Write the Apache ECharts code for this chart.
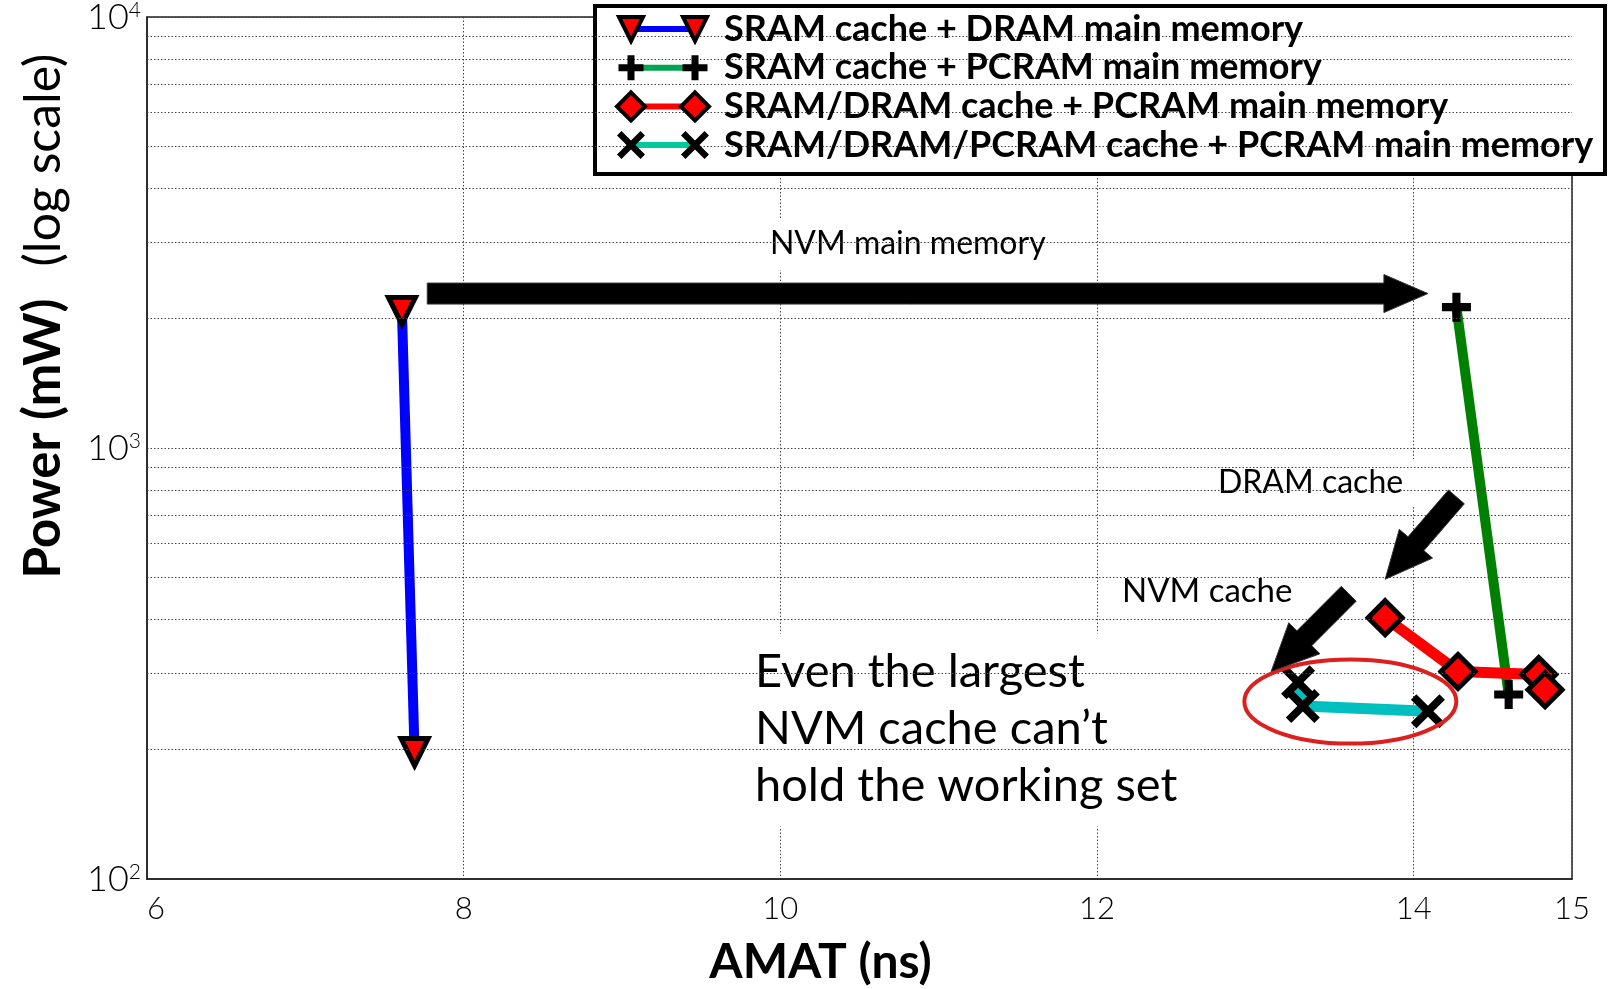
<!DOCTYPE html>
<html>
<head>
<meta charset="utf-8">
<script src="https://cdn.jsdelivr.net/npm/echarts@6/dist/echarts.min.js"></script>
<style>html,body{margin:0;padding:0;background:#fff}#c{width:1614px;height:989px}</style>
</head>
<body>
<div id="c"></div>
<script>
// ---------------- data ----------------
const seriesNames = [
  'SRAM cache + DRAM main memory',
  'SRAM cache + PCRAM main memory',
  'SRAM/DRAM cache + PCRAM main memory',
  'SRAM/DRAM/PCRAM cache + PCRAM main memory'
];
const sramDramAmat = [7.61, 7.69];
const sramDramPower = [2080, 197];
const sramPcramAmat = [14.27, 14.60];
const sramPcramPower = [2122, 268];
const dramCacheAmat = [13.82, 14.28, 14.79, 14.83];
const dramCachePower = [404, 303, 298, 275];
const nvmCacheAmat = [13.27, 13.30, 14.09];
const nvmCachePower = [286, 252, 245];

const xMin = 6, xMax = 15, xStep = 2;
const yMin = 100, yMax = 10000;
const minorGridPower = [200, 300, 400, 500, 600, 700, 800, 900, 2000, 3000, 4000, 5000, 6000, 7000, 8000, 9000];

// annotations (data coordinates)
const mainArrow = [[7.77, 2282], [14.09, 2282]];
const dramArrow = [[14.27, 770], [13.82, 496]];
const nvmArrow = [[13.59, 459], [13.10, 303]];
const ellipseCenter = [13.60, 258];
const labelNvmMain = { text: 'NVM main memory', at: [9.934, 2971] };
const labelDram = { text: 'DRAM cache', at: [12.764, 829] };
const labelNvm = { text: 'NVM cache', at: [12.158, 456] };
const labelBig = { text: 'Even the largest\nNVM cache can\u2019t\nhold the working set', at: [9.840, 352] };

// ---------------- styles ----------------
const FONT = 'Lato';
const PLUS_PATH = 'path://M-1.4,-5L1.4,-5L1.4,-1.4L5,-1.4L5,1.4L1.4,1.4L1.4,5L-1.4,5L-1.4,1.4L-5,1.4L-5,-1.4L-1.4,-1.4Z';
const X_PATH = 'path://M-5,-3.4L-3.4,-5L0,-1.6L3.4,-5L5,-3.4L1.6,0L5,3.4L3.4,5L0,1.6L-3.4,5L-5,3.4L-1.6,0Z';
const gridLine = { type: [1.5, 2], color: '#444', width: 1 };

const zip = (a, b) => a.map((v, i) => [v, b[i]]);

const legendLeft = 699, legendTop = 11, legendRowH = 36, legendGap = 2.7;

const option = {
  animation: false,
  backgroundColor: '#fff',
  textStyle: { fontFamily: FONT },
  grid: {
    left: 147, right: 42, top: 17, bottom: 110,
    show: true, borderColor: '#222', borderWidth: 1.5,
    containLabel: false, outerBoundsMode: 'none'
  },
  legend: {
    data: seriesNames,
    orient: 'vertical',
    left: legendLeft, top: legendTop,
    padding: 0,
    itemWidth: 20, itemHeight: legendRowH, itemGap: legendGap,
    icon: 'rect',
    itemStyle: { color: 'rgba(0,0,0,0)', borderWidth: 0, opacity: 0 },
    textStyle: { fontSize: 36, fontWeight: 'bold', fontFamily: FONT, color: '#000' },
    selectedMode: false,
    z: 6
  },
  xAxis: {
    type: 'value', min: xMin, max: xMax, interval: xStep,
    axisLine: { show: true, lineStyle: { color: '#222', width: 1.5 } },
    axisTick: { show: false },
    splitLine: { show: true, lineStyle: gridLine },
    axisLabel: { fontSize: 31, color: '#000', margin: 14, fontFamily: FONT, fontWeight: 300, alignMinLabel: 'left' },
    name: 'AMAT (ns)', nameLocation: 'middle', nameGap: 60,
    nameTextStyle: { fontSize: 48, fontWeight: 'bold', color: '#000', fontFamily: FONT, padding: [0, 78, 0, 0] }
  },
  yAxis: {
    type: 'log', logBase: 10, min: yMin, max: yMax,
    axisLine: { show: true, lineStyle: { color: '#222', width: 1.5 } },
    axisTick: { show: false },
    splitLine: { show: true, lineStyle: gridLine },
    axisLabel: {
      margin: 6,
      formatter: v => '{b|10}{s|' + Math.round(Math.log10(v)) + '}',
      rich: {
        b: { fontSize: 36, lineHeight: 34, color: '#000', fontFamily: FONT, fontWeight: 300 },
        s: { fontSize: 21, lineHeight: 20, color: '#000', fontFamily: FONT, verticalAlign: 'top', fontWeight: 300 }
      }
    },
    name: '{b|Power (mW)}{n|(log scale)}',
    nameLocation: 'middle', nameGap: 78, nameRotate: 90,
    nameTextStyle: {
      padding: [0, 0, 0, 264],
      rich: {
        b: { fontSize: 51, fontWeight: 'bold', color: '#000', fontFamily: FONT },
        n: { fontSize: 50, color: '#000', fontFamily: FONT, padding: [0, 0, 0, 32] }
      }
    }
  },
  series: [
    {
      name: '__grid', type: 'line', data: [], z: 1, silent: true,
      markLine: {
        silent: true, symbol: ['none', 'none'], label: { show: false },
        lineStyle: gridLine, animation: false,
        emphasis: { disabled: true },
        data: minorGridPower.map(v => ({ yAxis: v }))
      }
    },
    {
      name: seriesNames[0], type: 'line', z: 3, data: zip(sramDramAmat, sramDramPower),
      symbol: 'triangle', symbolRotate: 180, symbolSize: 27, showAllSymbol: true,
      lineStyle: { color: '#0000ff', width: 10 },
      itemStyle: { color: '#ff0000', borderColor: '#000', borderWidth: 5, borderJoin: 'miter' },
      emphasis: { disabled: true }
    },
    {
      name: seriesNames[1], type: 'line', z: 3, data: zip(sramPcramAmat, sramPcramPower),
      symbol: PLUS_PATH, symbolSize: 29, showAllSymbol: true,
      lineStyle: { color: '#008000', width: 10 },
      itemStyle: { color: '#000', borderWidth: 0 },
      emphasis: { disabled: true }
    },
    {
      name: seriesNames[2], type: 'line', z: 3, data: zip(dramCacheAmat, dramCachePower),
      symbol: 'diamond', symbolSize: 34, showAllSymbol: true,
      lineStyle: { color: '#ff0000', width: 11 },
      itemStyle: { color: '#ff0000', borderColor: '#000', borderWidth: 5, borderJoin: 'miter' },
      emphasis: { disabled: true }
    },
    {
      name: seriesNames[3], type: 'line', z: 3, data: zip(nvmCacheAmat, nvmCachePower),
      symbol: X_PATH, symbolSize: 34, showAllSymbol: true,
      lineStyle: { color: '#00bfbf', width: 11 },
      itemStyle: { color: '#000', borderWidth: 0 },
      emphasis: { disabled: true }
    }
  ]
};

const chart = echarts.init(document.getElementById('c'), null, { renderer: 'canvas' });
chart.setOption(option);

// ---------------- annotations ----------------
const P = v => chart.convertToPixel({ xAxisIndex: 0, yAxisIndex: 0 }, v);

function arrowPoints(a, b, shaft, headW, headL) {
  const dx = b[0] - a[0], dy = b[1] - a[1], len = Math.hypot(dx, dy);
  const ux = dx / len, uy = dy / len, nx = -uy, ny = ux;
  const bx = b[0] - ux * headL, by = b[1] - uy * headL;
  return [
    [a[0] + nx * shaft / 2, a[1] + ny * shaft / 2],
    [bx + nx * shaft / 2, by + ny * shaft / 2],
    [bx + nx * headW / 2, by + ny * headW / 2],
    [b[0], b[1]],
    [bx - nx * headW / 2, by - ny * headW / 2],
    [bx - nx * shaft / 2, by - ny * shaft / 2],
    [a[0] - nx * shaft / 2, a[1] - ny * shaft / 2]
  ];
}
function arrowEl(def, shaft, headW, headL) {
  return {
    type: 'polygon', z: 8, silent: true,
    shape: { points: arrowPoints(P(def[0]), P(def[1]), shaft, headW, headL) },
    style: { fill: '#000', stroke: '#333', lineWidth: 1 }
  };
}
function textEl(lbl, size, pad, valign) {
  const p = P(lbl.at);
  const t = pad[0], b = pad[2], l = pad[3];
  return {
    type: 'text', z: 2, silent: true,
    style: {
      text: lbl.text, x: p[0] - l,
      y: valign === 'top' ? p[1] - t : p[1] - (t - b) / 2,
      font: size + 'px ' + FONT, fill: '#000',
      align: 'left', verticalAlign: valign,
      lineHeight: valign === 'top' ? 57 : undefined,
      backgroundColor: '#fff', padding: pad
    }
  };
}

// legend markers
function marker(kind, cx, cy, s) {
  const h = s / 2;
  if (kind === 'tri') {
    return { type: 'polygon', z: 7, shape: { points: [[cx - h, cy - h], [cx + h, cy - h], [cx, cy + h]] },
      style: { fill: '#f00', stroke: '#000', lineWidth: 4, lineJoin: 'miter' } };
  }
  if (kind === 'dia') {
    return { type: 'polygon', z: 7, shape: { points: [[cx, cy - h], [cx + h, cy], [cx, cy + h], [cx - h, cy]] },
      style: { fill: '#f00', stroke: '#000', lineWidth: 4, lineJoin: 'miter' } };
  }
  if (kind === 'plus') {
    const t = s * 0.14;
    const pts = [[-t, -h], [t, -h], [t, -t], [h, -t], [h, t], [t, t], [t, h], [-t, h], [-t, t], [-h, t], [-h, -t], [-t, -t]];
    return { type: 'polygon', z: 7, shape: { points: pts.map(q => [cx + q[0], cy + q[1]]) }, style: { fill: '#000' } };
  }
  const k = s * 0.16;
  const pts = [[-h, -h + k], [-h + k, -h], [0, -k], [h - k, -h], [h, -h + k], [k, 0], [h, h - k], [h - k, h], [0, k], [-h + k, h], [-h, h - k], [-k, 0]];
  return { type: 'polygon', z: 7, shape: { points: pts.map(q => [cx + q[0], cy + q[1]]) }, style: { fill: '#000' } };
}

const iconL = 631, iconR = 695;
const legendKinds = [
  { kind: 'tri', color: '#0000ff', size: 24 },
  { kind: 'plus', color: '#00a550', size: 25 },
  { kind: 'dia', color: '#ff0000', size: 28 },
  { kind: 'x', color: '#00c99a', size: 28 }
];
const legendEls = [{
  type: 'rect', z: 4, silent: true,
  shape: { x: 595, y: 6, width: 1010, height: 168 },
  style: { fill: '#fff', stroke: '#000', lineWidth: 4 }
}];
legendKinds.forEach((k, i) => {
  const cy = legendTop + i * (legendRowH + legendGap) + legendRowH / 2;
  legendEls.push({ type: 'line', z: 7, shape: { x1: iconL, y1: cy, x2: iconR, y2: cy }, style: { stroke: k.color, lineWidth: 6 } });
  legendEls.push(marker(k.kind, iconL, cy, k.size));
  legendEls.push(marker(k.kind, iconR, cy, k.size));
});

const ec = P(ellipseCenter);
chart.setOption({
  graphic: [
    textEl(labelNvmMain, 32, [10, 44, 10, 22], 'middle'),
    textEl(labelDram, 32, [8, 42, 8, 20], 'middle'),
    textEl(labelNvm, 33, [25, 57, 17, 5], 'middle'),
    textEl(labelBig, 47, [10, 45, 12, 20], 'top'),
    arrowEl(mainArrow, 21, 38, 44),
    arrowEl(dramArrow, 21, 44, 47),
    arrowEl(nvmArrow, 21, 44, 47),
    { type: 'ellipse', z: 6, silent: true, shape: { cx: ec[0], cy: ec[1], rx: 106, ry: 42 },
      style: { fill: 'none', stroke: '#dc1f1f', lineWidth: 4 } }
  ].concat(legendEls)
});
</script>
</body>
</html>
